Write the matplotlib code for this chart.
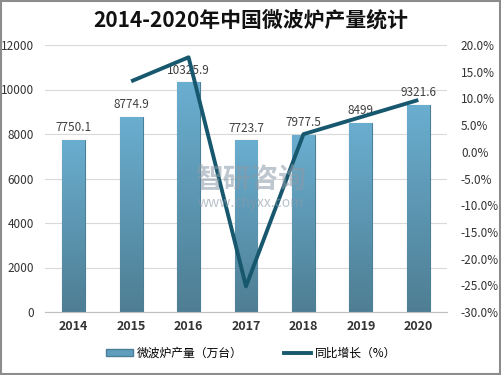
import numpy as np
import matplotlib.pyplot as plt
from matplotlib.patches import Rectangle
from matplotlib.lines import Line2D
from matplotlib.colors import LinearSegmentedColormap

plt.rcParams['font.family'] = ['Noto Sans CJK SC', 'DejaVu Sans']

years = ['2014', '2015', '2016', '2017', '2018', '2019', '2020']
output = [7750.1, 8774.9, 10325.9, 7723.7, 7977.5, 8499, 9321.6]
growth = [None, 13.2, 17.7, -25.2, 3.3, 6.5, 9.7]
bar_labels = ['7750.1', '8774.9', '10325.9', '7723.7', '7977.5', '8499', '9321.6']

fig = plt.figure(figsize=(5.02, 3.75), dpi=100)
fig.patches.append(Rectangle((0.002, 0.003), 0.995, 0.994, transform=fig.transFigure,
                             fill=False, edgecolor='#8c8c8c', linewidth=1.5))

ax = fig.add_axes([45 / 502, 1 - 312 / 375, 402 / 502, 267 / 375])
ax2 = ax.twinx()

x = np.arange(len(years))
bars = ax.bar(x, output, width=0.4, color='#5f9fbd', edgecolor='#4b7f98', linewidth=0.8, zorder=2)

# vertical gradient inside bars
cmap = LinearSegmentedColormap.from_list('g', ['#4e7e93', '#6aaed0'])
grad = np.linspace(0, 1, 256).reshape(-1, 1)
for b in bars:
    x0, w, h = b.get_x(), b.get_width(), b.get_height()
    im = ax.imshow(grad, extent=[x0, x0 + w, 0, h], origin='lower', cmap=cmap,
                   aspect='auto', zorder=2.1)
    im.set_clip_path(b)

for xi, v, s in zip(x, output, bar_labels):
    ax.text(xi, v + 250, s, ha='center', va='bottom', fontsize=8.5, color='#404040', zorder=3)

ax.set_xlim(-0.5, len(years) - 0.5)
ax.set_ylim(0, 12000)
ax.set_yticks(range(0, 12001, 2000))
ax.grid(axis='y', color='#d9d9d9', linewidth=0.8, zorder=0)
ax.set_axisbelow(True)
ax.set_xticks(x)
ax.set_xticklabels(years, fontweight='bold', fontsize=9, color='#333333')
ax.tick_params(axis='y', labelsize=8.5, colors='#333333', length=0, pad=8)
ax.tick_params(axis='x', length=0, pad=6)
for s in ['top', 'left', 'right']:
    ax.spines[s].set_visible(False)
ax.spines['bottom'].set_color('#bfbfbf')

gx = [xi for xi, g in zip(x, growth) if g is not None]
gy = [g for g in growth if g is not None]
ax2.plot(gx, gy, color='#17586e', linewidth=2.8, solid_capstyle='butt', zorder=5)
ax2.set_ylim(-30, 20)
ax2.set_yticks(range(-30, 21, 5))
ax2.set_yticklabels(['%.1f%%' % t for t in range(-30, 21, 5)])
ax2.tick_params(axis='y', labelsize=8.5, colors='#333333', length=0, pad=10)
for s in ['top', 'left', 'right', 'bottom']:
    ax2.spines[s].set_visible(False)

fig.text(0.5, 1 - 20 / 375, '2014-2020年中国微波炉产量统计', ha='center', va='center',
         fontsize=15, fontweight='bold', color='#111111')

# watermark
fig.text(0.5, 1 - 180 / 375, '智研咨询', ha='center', va='center', fontsize=20,
         color='#8a9aa8', alpha=0.55, fontweight='bold')
fig.text(0.5, 1 - 203 / 375, 'www.chyxx.com', ha='center', va='center', fontsize=10,
         color='#8a9aa8', alpha=0.6)

handles = [Rectangle((0, 0), 1, 1, facecolor='#5f9fbd', edgecolor='#4b7f98'),
           Line2D([0], [0], color='#17586e', linewidth=2.8)]
fig.legend(handles, ['微波炉产量（万台）', '同比增长（%）'], loc='center',
           bbox_to_anchor=(0.5, 1 - 353 / 375), ncol=2, frameon=False, fontsize=8.5,
           handlelength=2.3, handleheight=0.6, columnspacing=3.5, handletextpad=0.3)

fig.savefig('out.png', dpi=100)
